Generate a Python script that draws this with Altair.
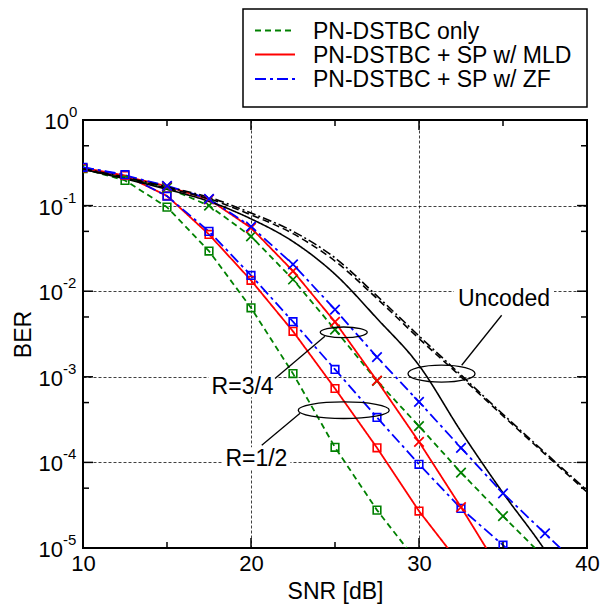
import altair as alt
import pandas as pd

# ---------------- data ----------------
snr = [10, 12.5, 15, 17.5, 20, 22.5, 25, 27.5, 30, 32.5, 35, 37.5, 40]

schemes = ["PN-DSTBC only", "PN-DSTBC + SP w/ MLD", "PN-DSTBC + SP w/ ZF"]

# R = 1/2 (square markers)
only_r12 = [0.27, 0.197, 0.096, 0.0294, 0.0064, 0.00109, 1.5e-4, 2.77e-5, 6.5e-6]
mld_r12 = [0.275, 0.225, 0.13, 0.046, 0.0134, 0.0034, 7.3e-4, 1.48e-4, 2.7e-5, 6.3e-6]
zf_r12 = [0.28, 0.23, 0.129, 0.050, 0.0153, 0.0044, 1.22e-3, 3.35e-4, 9.5e-5, 2.9e-5, 1.08e-5, 4e-6]

# R = 3/4 (x markers)
only_r34 = [0.27, 0.21, 0.162, 0.10, 0.0438, 0.0137, 3.56e-3, 8.95e-4, 2.65e-4, 7.6e-5, 2.36e-5, 7.6e-6]
mld_r34 = [0.275, 0.22, 0.168, 0.118, 0.055, 0.0172, 4.38e-3, 9.0e-4, 1.74e-4, 3.0e-5, 4.8e-6]
zf_r34 = [0.28, 0.225, 0.17, 0.12, 0.057, 0.0206, 6.1e-3, 1.7e-3, 5.1e-4, 1.48e-4, 4.35e-5, 1.48e-5, 5e-6]

# Uncoded (black, no markers)
unc_solid = [0.265, 0.205, 0.155, 0.112, 0.07, 0.038, 0.0158, 0.0048, 1.36e-3, 2.3e-4, 4.4e-5, 9.4e-6, 1.5e-6]
unc_dash = [0.265, 0.21, 0.16, 0.12, 0.078, 0.047, 0.0225, 0.0082, 2.8e-3, 1.0e-3, 3.5e-4, 1.25e-4, 4.5e-5]
unc_dashdot = [0.27, 0.215, 0.165, 0.125, 0.082, 0.05, 0.0245, 0.0088, 3.0e-3, 1.05e-3, 3.65e-4, 1.3e-4, 4.7e-5]

x_labels = [10, 20, 30, 40]
y_decades = [1, 1e-1, 1e-2, 1e-3, 1e-4, 1e-5]
y_exps = ["0", "-1", "-2", "-3", "-4", "-5"]
y_halves = [0.5, 5e-2, 5e-3, 5e-4, 5e-5]
x_major = [20, 30]
x_minor = [15, 25, 35]

# annotations (data coordinates)
ann_text = ["Uncoded", "R=3/4", "R=1/2"]
ann_text_snr = [35.06, 19.5, 20.32]
ann_text_ber = [8.26e-3, 7.76e-4, 1.12e-4]
ell_snr = [31.34, 25.52, 25.52]
ell_ber = [1.087e-3, 3.31e-3, 4.07e-4]
lead_snr = [32.54, 24.40, 22.92]
lead_ber = [1.365e-3, 2.98e-3, 3.76e-4]
lead_snr2 = [34.92, 21.43, 20.64]
lead_ber2 = [5.24e-3, 9.55e-4, 1.59e-4]

# ---------------- styling ----------------
W, H = 504, 428
FONT = "Liberation Sans"
colors = ["#008000", "#ff0000", "#0000ff"]
dashes = [[6, 4], [1, 0], [11, 4, 3, 4]]

rows = []
for sch, rate, vals in [
    (schemes[0], "1/2", only_r12), (schemes[1], "1/2", mld_r12), (schemes[2], "1/2", zf_r12),
    (schemes[0], "3/4", only_r34), (schemes[1], "3/4", mld_r34), (schemes[2], "3/4", zf_r34),
]:
    for s, b in zip(snr, vals):
        rows.append({"snr": s, "ber": b, "scheme": sch, "rate": rate, "curve": sch + rate})
coded = pd.DataFrame(rows)

unc_rows = []
for name, vals in [("solid", unc_solid), ("dash", unc_dash), ("dashdot", unc_dashdot)]:
    for s, b in zip(snr, vals):
        unc_rows.append({"snr": s, "ber": b, "kind": name})
unc = pd.DataFrame(unc_rows)

xs = alt.Scale(domain=[10, 40], nice=False, zero=False)
ys = alt.Scale(type="log", domain=[1e-5, 1], nice=False)

x_axis = alt.Axis(
    values=x_labels, title="SNR [dB]", grid=True, gridColor="black", gridDash=[3, 2],
    gridOpacity=0.75, gridWidth=1, ticks=False, tickSize=0, domain=False,
    labelFont=FONT, labelFontSize=22, labelColor="black", labelPadding=5,
    titleFont=FONT, titleFontSize=23, titleFontWeight="normal", titleColor="black",
    titlePadding=6, labelFlush=False)
y_axis = alt.Axis(
    values=y_decades, title="BER", grid=True, gridColor="black", gridDash=[3, 2],
    gridOpacity=0.75, gridWidth=1, labels=False, ticks=False, tickSize=0, domain=False,
    titleFont=FONT, titleFontSize=23, titleFontWeight="normal", titleColor="black",
    titlePadding=48)


def X():
    return alt.X("snr:Q", scale=xs, axis=x_axis)


def Y():
    return alt.Y("ber:Q", scale=ys, axis=y_axis)


col_scale = alt.Scale(domain=schemes, range=colors)
dash_scale = alt.Scale(domain=schemes, range=dashes)

lines = alt.Chart(coded).mark_line(clip=True, strokeWidth=1.8).encode(
    x=X(), y=Y(),
    color=alt.Color("scheme:N", scale=col_scale, legend=None),
    strokeDash=alt.StrokeDash("scheme:N", scale=dash_scale, legend=None),
    detail="curve:N",
)

sq = alt.Chart(coded).transform_filter(alt.datum.rate == "1/2").mark_point(
    shape="square", filled=False, size=58, strokeWidth=1.6, opacity=1, clip=True
).encode(x=X(), y=Y(), stroke=alt.Stroke("scheme:N", scale=col_scale, legend=None))

crosses = alt.Chart(coded).transform_filter(
    (alt.datum.rate == "3/4") & (alt.datum.snr >= 15)
).mark_point(
    shape="M-1,-1L1,1M-1,1L1,-1", filled=False, size=90, strokeWidth=1.7, opacity=1, clip=True
).encode(x=X(), y=Y(), stroke=alt.Stroke("scheme:N", scale=col_scale, legend=None))

unc_layers = []
for kind, dash in [("solid", [1, 0]), ("dash", [7, 4]), ("dashdot", [9, 3, 2, 3])]:
    unc_layers.append(
        alt.Chart(unc).transform_filter(alt.datum.kind == kind).mark_line(
            clip=True, color="black", strokeWidth=1.6, strokeDash=dash, interpolate="monotone"
        ).encode(x=X(), y=Y())
    )

# inside tick marks
ymaj = pd.DataFrame({"ber": y_decades})
ymin = pd.DataFrame({"ber": y_halves})
xmaj = pd.DataFrame({"snr": x_major})
xmin = pd.DataFrame({"snr": x_minor})
tk = dict(color="black", strokeWidth=1.5)
ticks = [
    alt.Chart(ymaj).mark_rule(**tk).encode(y=Y(), x=alt.value(0), x2=alt.value(10)),
    alt.Chart(ymaj).mark_rule(**tk).encode(y=Y(), x=alt.value(W), x2=alt.value(W - 10)),
    alt.Chart(ymin).mark_rule(**tk).encode(y=Y(), x=alt.value(0), x2=alt.value(6)),
    alt.Chart(ymin).mark_rule(**tk).encode(y=Y(), x=alt.value(W), x2=alt.value(W - 6)),
    alt.Chart(xmaj).mark_rule(**tk).encode(x=X(), y=alt.value(H), y2=alt.value(H - 10)),
    alt.Chart(xmaj).mark_rule(**tk).encode(x=X(), y=alt.value(0), y2=alt.value(10)),
    alt.Chart(xmin).mark_rule(**tk).encode(x=X(), y=alt.value(H), y2=alt.value(H - 6)),
    alt.Chart(xmin).mark_rule(**tk).encode(x=X(), y=alt.value(0), y2=alt.value(6)),
]

# y tick labels as 10 + superscript exponent
ylab = pd.DataFrame({"ber": y_decades, "e": y_exps})
ylabels = []
for cond, xoff in [(alt.datum.e == "0", -14), (alt.datum.e != "0", -20)]:
    base = alt.Chart(ylab).transform_filter(cond)
    ylabels.append(base.mark_text(align="right", baseline="middle", font=FONT, fontSize=22,
                                  color="black", dy=2).encode(y=Y(), x=alt.value(xoff), text=alt.value("10")))
    ylabels.append(base.mark_text(align="left", baseline="middle", font=FONT, fontSize=15,
                                  color="black", dy=-8).encode(y=Y(), x=alt.value(xoff), text="e:N"))


# annotations
def ellipse_path(ratio):
    k = 0.5523
    r = ratio
    return (f"M1,0C1,{k*r:.4f} {k},{r:.4f} 0,{r:.4f}C{-k},{r:.4f} -1,{k*r:.4f} -1,0"
            f"C-1,{-k*r:.4f} {-k},{-r:.4f} 0,{-r:.4f}C{k},{-r:.4f} 1,{-k*r:.4f} 1,0Z")


def box_path(ratio):
    return f"M-1,{-ratio:.4f}L1,{-ratio:.4f}L1,{ratio:.4f}L-1,{ratio:.4f}Z"


ell_w = [67, 47, 91]
ell_h = [17, 10.6, 16.6]
ell = pd.DataFrame({
    "snr": ell_snr, "ber": ell_ber,
    "path": [ellipse_path(h / w) for w, h in zip(ell_w, ell_h)],
    "sz": [w * w for w in ell_w],
})
box_w = [100, 68, 68]
boxes = pd.DataFrame({
    "snr": ann_text_snr, "ber": ann_text_ber,
    "path": [box_path(11 / (w / 2)) for w in box_w],
    "sz": [w * w for w in box_w],
})
leads = pd.DataFrame({"snr": lead_snr, "ber": lead_ber, "snr2": lead_snr2, "ber2": lead_ber2})
texts = pd.DataFrame({"snr": ann_text_snr, "ber": ann_text_ber, "t": ann_text})

box_layer = alt.Chart(boxes).mark_point(filled=True, fill="white", strokeWidth=0, opacity=1).encode(
    x=X(), y=Y(), shape=alt.Shape("path:N", scale=None), size=alt.Size("sz:Q", scale=None))
ell_layer = alt.Chart(ell).mark_point(filled=False, stroke="black", strokeWidth=1.3, opacity=1).encode(
    x=X(), y=Y(), shape=alt.Shape("path:N", scale=None), size=alt.Size("sz:Q", scale=None))
lead_layer = alt.Chart(leads).mark_rule(color="black", strokeWidth=1.3).encode(
    x=X(), y=Y(), x2="snr2:Q", y2="ber2:Q")
text_layer = alt.Chart(texts).mark_text(font=FONT, fontSize=23, color="black", align="center",
                                        baseline="middle", dy=1).encode(x=X(), y=Y(), text="t:N")

# legend box (drawn above the plot area, pixel offsets relative to plot origin)
leg_df = pd.DataFrame({"scheme": schemes})
LX0, LX1, LY0, LY1 = 160, 504, -111, -13
leg_rows_y = [-89.5, -65.5, -41]
legend_layers = [
    alt.Chart(leg_df.head(1)).mark_rect(fill="white", stroke="black", strokeWidth=1.5).encode(
        x=alt.value(LX0), x2=alt.value(LX1), y=alt.value(LY0), y2=alt.value(LY1))
]
for i, sch in enumerate(schemes):
    one = alt.Chart(leg_df.iloc[[i]])
    legend_layers.append(one.mark_rule(color=colors[i], strokeDash=dashes[i], strokeWidth=1.8).encode(
        x=alt.value(LX0 + 12), x2=alt.value(LX0 + 52), y=alt.value(leg_rows_y[i])))
    legend_layers.append(one.mark_text(align="left", baseline="middle", font=FONT, fontSize=23,
                                       color="black", dy=1).encode(
        x=alt.value(LX0 + 70), y=alt.value(leg_rows_y[i]), text="scheme:N"))

chart = alt.layer(
    lines, box_layer, *unc_layers, sq, crosses, *ticks, *ylabels, lead_layer, ell_layer, text_layer,
    *legend_layers
).properties(
    width=W, height=H,
    padding={"left": 75, "top": 112, "right": 18, "bottom": 56},
    autosize=alt.AutoSizeParams(type="none"),
).configure_view(
    stroke="black", strokeWidth=2
)

chart.save("out.html", embed_options={"renderer": "svg", "actions": False})
